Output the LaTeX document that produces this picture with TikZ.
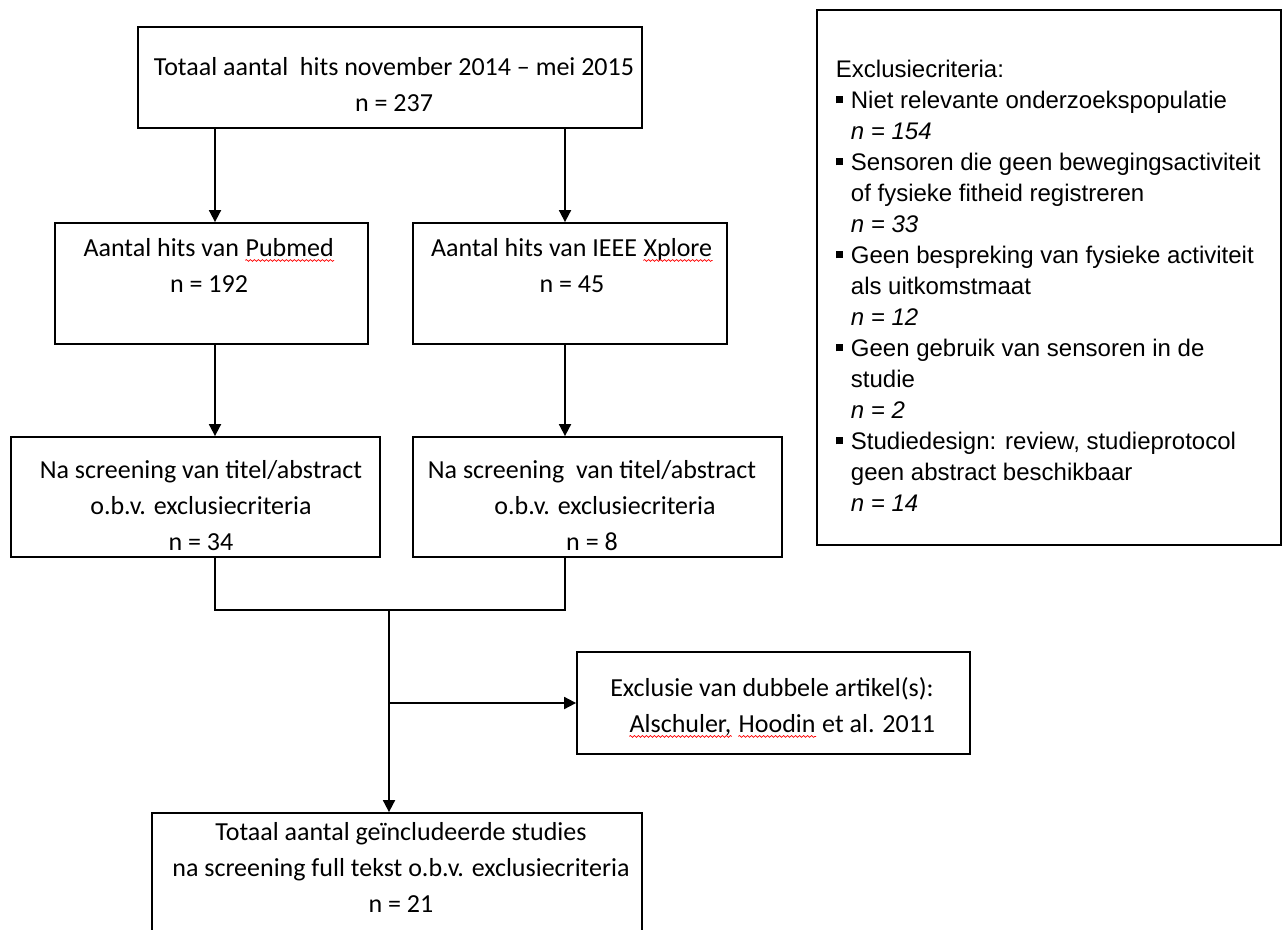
\documentclass[tikz,border=0pt]{standalone}
\usepackage{fontspec}
\setmainfont{Carlito}
\newfontfamily\critfont{Liberation Sans}
\usetikzlibrary{arrows.meta,positioning,calc,decorations.pathmorphing}
\newcommand{\spell}[1]{\tikz[baseline=(w.base)]{\node[inner sep=0pt] (w) {#1};
    \draw[red,line width=0.35pt,decorate,decoration={snake,amplitude=0.45pt,segment length=2pt}]
    ([yshift=-2pt]w.base west) -- ([yshift=-2pt]w.base east);}}
\newcommand{\critbul}{\makebox[7.5pt][l]{\rule[2.4pt]{3.6pt}{3.6pt}}}
\newcommand{\critind}{\hspace*{7.5pt}}

\begin{document}
\begin{tikzpicture}[x=0.5pt,y=-0.5pt,line width=0.9pt]
        %
        % `box' is used for every frame, `txt' for the text in it.
        % `flow' is used for the arrows between the frames.
        \tikzstyle{box} = [draw,rectangle,inner sep=0pt]
        \tikzstyle{txt} = [align=center,inner sep=0pt,anchor=north,font=\fontsize{13pt}{18pt}\selectfont]
        \tikzstyle{flow} = [-{Triangle[length=6pt,width=6pt]}]
        %
        \useasboundingbox (0,0) rectangle (1283,930);
        \clip (0,0) rectangle (1283,930);
        % Arrow columns
        \coordinate (cl) at (215,0);
        \coordinate (cr) at (565,0);
        \coordinate (mj) at (389,610);
        %
        % Row 1
        \node[box,minimum width=252pt,minimum height=50.5pt] (total) at (390,77.5) {};
        \node[txt] (totaltxt) at (394,57) {Totaal aantal\ \ hits november 2014 -- mei 2015\\ n = 237};
        %
        % Row 2
        \node[box,minimum width=156.5pt,minimum height=60.5pt] (pub) at (211.5,283.5) {};
        \node[txt] (pubtxt) at (209,238) {Aantal hits van \spell{Pubmed}\\ n = 192};
        \node[box,minimum width=157pt,minimum height=60.5pt] (ieee) at (570,283.5) {};
        \node[txt] (ieeetxt) at (572,238) {Aantal hits van IEEE \spell{Xplore}\\ n = 45};
        %
        % Row 3
        \node[box,minimum width=184.5pt,minimum height=60pt] (scl) at (195.5,497) {};
        \node[txt] (scltxt) at (201,460) {Na screening van titel/abstract\\ o.b.v. exclusiecriteria\\ n = 34};
        \node[box,minimum width=184.5pt,minimum height=60pt] (scr) at (597.5,497) {};
        \node[txt] (scrtxt) at (592,460) {Na screening\ \ van titel/abstract\\ \hspace*{13pt}o.b.v. exclusiecriteria\\ n = 8};
        %
        % Row 4
        \node[box,minimum width=196.5pt,minimum height=51pt] (exc) at (773.5,703) {};
        \node[txt] (exctxt) at (772,677) {Exclusie van dubbele artikel(s):\\ \hspace*{10pt}\spell{Alschuler,} \spell{Hoodin} et al. 2011};
        %
        % Row 5
        \node[box,minimum width=245pt,minimum height=93.5pt] (incl) at (397,906.5) {};
        \node[txt] (incltxt) at (401,822) {Totaal aantal geïncludeerde studies\\ na screening full tekst o.b.v. exclusiecriteria\\ n = 21};
        %
        % Criteria
        \node[box,minimum width=232pt,minimum height=267.5pt] (crit) at (1049,277.5) {};
        \node[anchor=north west,inner sep=0pt,align=left,font=\critfont\fontsize{12pt}{15.5pt}\selectfont] (crittxt) at (835,59) {Exclusiecriteria:\\
        \critbul Niet relevante onderzoekspopulatie\\
        \critind\textit{n = 154}\\
        \critbul Sensoren die geen bewegingsactiviteit\\
        \critind of fysieke fitheid registreren\\
        \critind\textit{n = 33}\\
        \critbul Geen bespreking van fysieke activiteit\\
        \critind als uitkomstmaat\\
        \critind\textit{n = 12}\\
        \critbul Geen gebruik van sensoren in de\\
        \critind studie\\
        \critind\textit{n = 2}\\
        \critbul Studiedesign: review, studieprotocol\\
        \critind geen abstract beschikbaar\\
        \critind\textit{n = 14}};
        %
        % Arrows
        \draw[flow] (total.south -| cl) -- (pub.north -| cl);
        \draw[flow] (total.south -| cr) -- (ieee.north -| cr);
        \draw[flow] (pub.south -| cl) -- (scl.north -| cl);
        \draw[flow] (ieee.south -| cr) -- (scr.north -| cr);
        % Join
        \draw (scl.south -| cl) |- (mj) -| (scr.south -| cr);
        \draw[flow] (mj) -- (incl.north -| mj);
        \draw[flow] (mj |- exc.west) -- (exc.west);
        %
\end{tikzpicture}
\end{document}
